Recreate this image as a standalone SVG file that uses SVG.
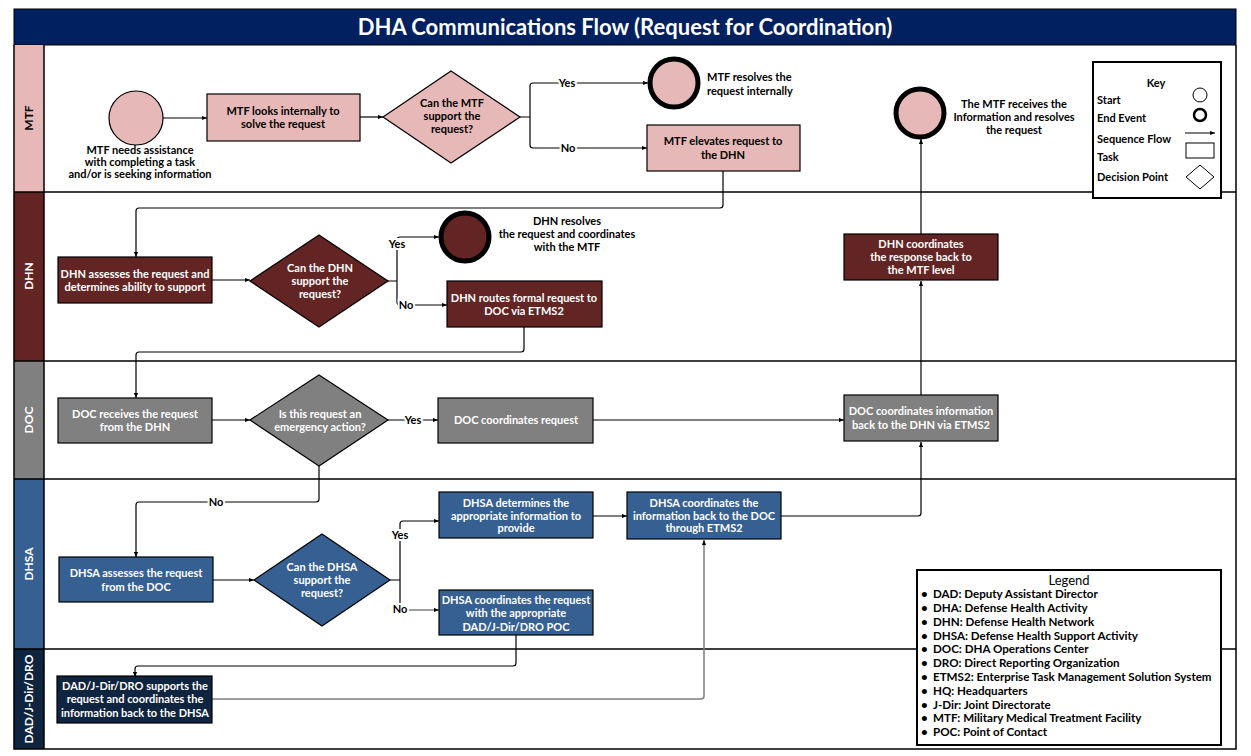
<svg xmlns="http://www.w3.org/2000/svg" width="1251" height="756" viewBox="0 0 1251 756">
<defs>
<marker id="arr" viewBox="0 0 6 6" refX="6" refY="3" markerWidth="5" markerHeight="5" orient="auto" markerUnits="userSpaceOnUse"><path d="M0,0.5 L6,3 L0,5.5 z" fill="#000"/></marker>
<style>
text{font-family:Lato,"Liberation Sans",sans-serif;font-weight:bold;font-size:11px;text-anchor:middle}
.lane{fill:none;stroke:#000;stroke-width:1.5}
.c{fill:none;stroke:#000;stroke-width:1.2}
.g{fill:none;stroke:#808080;stroke-width:1.5}
.w{fill:#fff}
.k{fill:#000}
.l{text-anchor:start}
.lg{font-size:11.6px}
.lbl{fill:#000;stroke:#fff;stroke-width:4;paint-order:stroke}
.mtf{fill:#E6B8B7;stroke:#000;stroke-width:1.2}
.dhn{fill:#632523;stroke:#000;stroke-width:1.2}
.doc{fill:#808080;stroke:#000;stroke-width:1.2}
.dhsa{fill:#366092;stroke:#000;stroke-width:1.2}
.dad{fill:#0F243E;stroke:#000;stroke-width:1.2}
.endm{fill:#E6B8B7;stroke:#000;stroke-width:5}
.endd{fill:#632523;stroke:#000;stroke-width:5}
</style>
</defs>
<rect width="1251" height="756" fill="#fff"/>
<g id="title">
<rect x="14" y="9" width="1222" height="36" fill="#002060" stroke="#000" stroke-width="1"/>
<text x="625" y="35" class="w" style="font-size:22px">DHA Communications Flow (Request for Coordination)</text>
</g>
<g id="lanes">
<rect x="14" y="45" width="30" height="147" fill="#E6B8B7"/>
<rect x="14" y="192" width="30" height="169" fill="#632523"/>
<rect x="14" y="361" width="30" height="118" fill="#808080"/>
<rect x="14" y="479" width="30" height="170" fill="#366092"/>
<rect x="14" y="649" width="30" height="100" fill="#0F243E"/>
<path class="lane" d="M14,45 V749 H1236 V45 M44,45 V749 M14,192 H1236 M14,361 H1236 M14,479 H1236 M14,649 H1236"/>
<text transform="translate(33,118) rotate(-90)" class="k" style="font-size:12px">MTF</text>
<text transform="translate(33,276) rotate(-90)" class="w" style="font-size:12px">DHN</text>
<text transform="translate(33,420) rotate(-90)" class="w" style="font-size:12px">DOC</text>
<text transform="translate(33,564) rotate(-90)" class="w" style="font-size:12px">DHSA</text>
<text transform="translate(33,699) rotate(-90)" class="w" style="font-size:12px">DAD/J-Dir/DRO</text>
</g>
<g id="connectors">
<path class="c" d="M163,118 H207" marker-end="url(#arr)"/>
<path class="c" d="M360,117 H383" marker-end="url(#arr)"/>
<path class="c" d="M520,117 H530 M530,117 V86 Q530,83 533,83 H648" marker-end="url(#arr)"/>
<path class="c" d="M530,117 V145 Q530,148 533,148 H647" marker-end="url(#arr)"/>
<text x="567" y="87" class="lbl">Yes</text>
<text x="568" y="152" class="lbl">No</text>
<path class="c" d="M723,171 V205 Q723,208 720,208 H139 Q136,208 136,211 V257" marker-end="url(#arr)"/>
<path class="c" d="M212,280 H250" marker-end="url(#arr)"/>
<path class="c" d="M388,281 H397 M397,281 V240 Q397,237 400,237 H439" marker-end="url(#arr)"/>
<path class="c" d="M397,281 V302 Q397,305 400,305 H447" marker-end="url(#arr)"/>
<text x="397" y="248" class="lbl">Yes</text>
<text x="406" y="309" class="lbl">No</text>
<path class="c" d="M524,327 V349 Q524,352 521,352 H139 Q136,352 136,355 V398" marker-end="url(#arr)"/>
<path class="c" d="M921,234 V139" marker-end="url(#arr)"/>
<path class="c" d="M212,420 H250" marker-end="url(#arr)"/>
<path class="c" d="M388,420 H438" marker-end="url(#arr)"/>
<text x="413" y="424" class="lbl">Yes</text>
<path class="c" d="M593,420 H844" marker-end="url(#arr)"/>
<path class="c" d="M921,395 V281" marker-end="url(#arr)"/>
<path class="c" d="M319,466 V499 Q319,502 316,502 H139 Q136,502 136,505 V557" marker-end="url(#arr)"/>
<text x="216" y="506" class="lbl">No</text>
<path class="c" d="M213,580 H254" marker-end="url(#arr)"/>
<path class="c" d="M390,580 H400 M400,580 V524 Q400,521 403,521 H439" marker-end="url(#arr)"/>
<path class="c" d="M400,580 V606"/>
<path class="g" d="M400,606 V607 Q400,610 403,610 H439" marker-end="url(#arr)"/>
<text x="400" y="539" class="lbl">Yes</text>
<text x="400" y="613" class="lbl">No</text>
<path class="c" d="M593,516 H627" marker-end="url(#arr)"/>
<path class="c" d="M781,516 H918 Q921,516 921,513 V442" marker-end="url(#arr)"/>
<path class="c" d="M516,635 V663 Q516,666 513,666 H138 Q135,666 135,669 V677" marker-end="url(#arr)"/>
<path class="g" d="M212,699 H701 Q704,699 704,696 V540" marker-end="url(#arr)"/>
</g>
<g id="mtf-start">
<circle cx="136" cy="118" r="27" class="mtf"/>
<text x="140" y="154" class="k">MTF needs assistance</text>
<text x="140" y="166" class="k">with completing a task</text>
<text x="140" y="178" class="k">and/or is seeking information</text>
</g>
<g id="mtf-looks">
<rect x="207" y="94" width="153" height="47" class="mtf"/>
<text x="283" y="115" class="k">MTF looks internally to</text>
<text x="283" y="128" class="k">solve the request</text>
</g>
<g id="mtf-decision">
<polygon points="451,71 520,117 451,163 383,117" class="mtf"/>
<text x="452" y="107" class="k">Can the MTF</text>
<text x="452" y="120" class="k">support the</text>
<text x="452" y="133" class="k">request?</text>
</g>
<g id="mtf-resolves">
<circle cx="674" cy="83" r="24" class="endm"/>
<text x="707" y="81" class="k l">MTF resolves the</text>
<text x="707" y="95" class="k l">request internally</text>
</g>
<g id="mtf-elevates">
<rect x="647" y="125" width="153" height="46" class="mtf"/>
<text x="723" y="145" class="k">MTF elevates request to</text>
<text x="723" y="159" class="k">the DHN</text>
</g>
<g id="mtf-end">
<circle cx="920" cy="113" r="24" class="endm"/>
<text x="1014" y="108" class="k">The MTF receives the</text>
<text x="1014" y="121" class="k">Information and resolves</text>
<text x="1014" y="134" class="k">the request</text>
</g>
<g id="key">
<rect x="1093" y="62" width="128" height="136" fill="#fff" stroke="#000" stroke-width="2"/>
<text x="1156" y="87" class="k">Key</text>
<text x="1097" y="104" class="k l">Start</text>
<circle cx="1200" cy="95" r="7" fill="#fff" stroke="#000" stroke-width="1"/>
<text x="1097" y="122" class="k l">End Event</text>
<circle cx="1200" cy="115" r="6" fill="#fff" stroke="#000" stroke-width="2.5"/>
<text x="1097" y="143" class="k l">Sequence Flow</text>
<path d="M1185,133 H1215" stroke="#000" stroke-width="1" marker-end="url(#arr)"/>
<text x="1097" y="161" class="k l">Task</text>
<rect x="1186" y="143" width="28" height="15" fill="#fff" stroke="#000" stroke-width="1"/>
<text x="1097" y="181" class="k l">Decision Point</text>
<polygon points="1200,165 1214,177 1200,189 1186,177" fill="#fff" stroke="#000" stroke-width="1"/>
</g>
<g id="dhn-assesses">
<rect x="58" y="257" width="154" height="46" class="dhn"/>
<text x="135" y="278" class="w">DHN assesses the request and</text>
<text x="135" y="291" class="w">determines ability to support</text>
</g>
<g id="dhn-decision">
<polygon points="319,235 388,281 319,327 250,281" class="dhn"/>
<text x="320" y="272" class="w">Can the DHN</text>
<text x="320" y="285" class="w">support the</text>
<text x="320" y="298" class="w">request?</text>
</g>
<g id="dhn-resolves">
<circle cx="465" cy="237" r="24" class="endd"/>
<text x="567" y="225" class="k">DHN resolves</text>
<text x="567" y="238" class="k">the request and coordinates</text>
<text x="567" y="251" class="k">with the MTF</text>
</g>
<g id="dhn-routes">
<rect x="447" y="281" width="155" height="46" class="dhn"/>
<text x="524" y="302" class="w">DHN routes formal request to</text>
<text x="524" y="315" class="w">DOC via ETMS2</text>
</g>
<g id="dhn-coordinates">
<rect x="844" y="234" width="154" height="46" class="dhn"/>
<text x="921" y="248" class="w">DHN coordinates</text>
<text x="921" y="261" class="w">the response back to</text>
<text x="921" y="274" class="w">the MTF level</text>
</g>
<g id="doc-receives">
<rect x="58" y="398" width="154" height="45" class="doc"/>
<text x="135" y="418" class="w">DOC receives the request</text>
<text x="135" y="431" class="w">from the DHN</text>
</g>
<g id="doc-decision">
<polygon points="319,375 388,420 319,466 250,420" class="doc"/>
<text x="320" y="418" class="w">Is this request an</text>
<text x="320" y="431" class="w">emergency action?</text>
</g>
<g id="doc-coordinates">
<rect x="438" y="398" width="155" height="45" class="doc"/>
<text x="516" y="424" class="w">DOC coordinates request</text>
</g>
<g id="doc-info">
<rect x="844" y="395" width="154" height="46" class="doc"/>
<text x="921" y="415" class="w">DOC coordinates information</text>
<text x="921" y="429" class="w">back to the DHN via ETMS2</text>
</g>
<g id="dhsa-assesses">
<rect x="59" y="557" width="154" height="45" class="dhsa"/>
<text x="136" y="577" class="w">DHSA assesses the request</text>
<text x="136" y="591" class="w">from the DOC</text>
</g>
<g id="dhsa-decision">
<polygon points="322,534 390,580 322,626 254,580" class="dhsa"/>
<text x="322" y="571" class="w">Can the DHSA</text>
<text x="322" y="584" class="w">support the</text>
<text x="322" y="597" class="w">request?</text>
</g>
<g id="dhsa-determines">
<rect x="439" y="492" width="154" height="46" class="dhsa"/>
<text x="516" y="507" class="w">DHSA determines the</text>
<text x="516" y="520" class="w">appropriate information to</text>
<text x="516" y="532" class="w">provide</text>
</g>
<g id="dhsa-coord-request">
<rect x="439" y="590" width="154" height="45" class="dhsa"/>
<text x="516" y="604" class="w">DHSA coordinates the request</text>
<text x="516" y="617" class="w">with the appropriate</text>
<text x="516" y="631" class="w">DAD/J-Dir/DRO POC</text>
</g>
<g id="dhsa-coord-info">
<rect x="627" y="492" width="154" height="47" class="dhsa"/>
<text x="704" y="507" class="w">DHSA coordinates the</text>
<text x="704" y="520" class="w">information back to the DOC</text>
<text x="704" y="532" class="w">through ETMS2</text>
</g>
<g id="dad-supports">
<rect x="57" y="676" width="155" height="47" class="dad"/>
<text x="135" y="690" class="w">DAD/J-Dir/DRO supports the</text>
<text x="135" y="703" class="w">request and coordinates the</text>
<text x="135" y="717" class="w">information back to the DHSA</text>
</g>
<g id="legend">
<rect x="917" y="570" width="304" height="175" fill="#fff" stroke="#000" stroke-width="2"/>
<text x="1069" y="585" class="k" style="font-weight:normal;font-size:13px">Legend</text>
<g class="k" style="text-anchor:start">
<text x="921" y="598" class="l lg">•</text><text x="933" y="598" class="l lg">DAD: Deputy Assistant Director</text>
<text x="921" y="612" class="l lg">•</text><text x="933" y="612" class="l lg">DHA: Defense Health Activity</text>
<text x="921" y="626" class="l lg">•</text><text x="933" y="626" class="l lg">DHN: Defense Health Network</text>
<text x="921" y="640" class="l lg">•</text><text x="933" y="640" class="l lg">DHSA: Defense Health Support Activity</text>
<text x="921" y="653" class="l lg">•</text><text x="933" y="653" class="l lg">DOC: DHA Operations Center</text>
<text x="921" y="667" class="l lg">•</text><text x="933" y="667" class="l lg">DRO: Direct Reporting Organization</text>
<text x="921" y="681" class="l lg">•</text><text x="933" y="681" class="l lg">ETMS2: Enterprise Task Management Solution System</text>
<text x="921" y="695" class="l lg">•</text><text x="933" y="695" class="l lg">HQ: Headquarters</text>
<text x="921" y="709" class="l lg">•</text><text x="933" y="709" class="l lg">J-Dir: Joint Directorate</text>
<text x="921" y="722" class="l lg">•</text><text x="933" y="722" class="l lg">MTF: Military Medical Treatment Facility</text>
<text x="921" y="736" class="l lg">•</text><text x="933" y="736" class="l lg">POC: Point of Contact</text>
</g>
</g>
</svg>
